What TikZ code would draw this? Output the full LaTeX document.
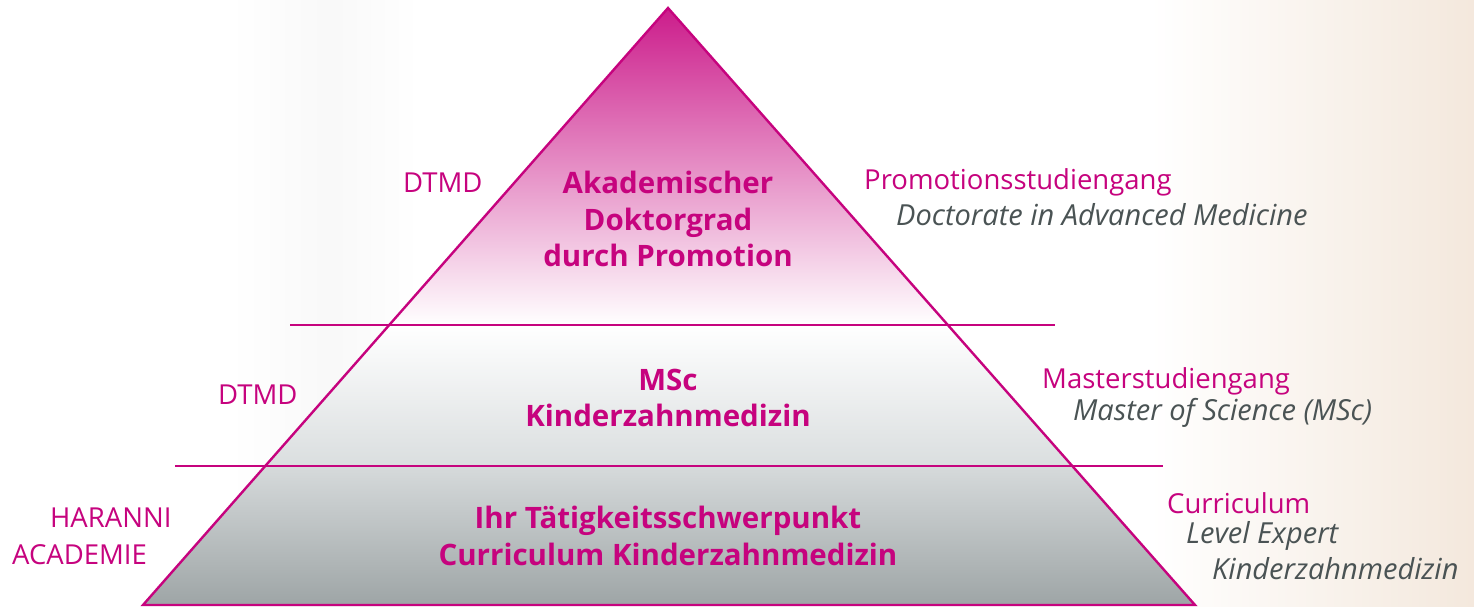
\documentclass[tikz,border=0pt]{standalone}
\usepackage{fontspec}
\setmainfont{Open Sans}
\usepackage{tikz}
\usetikzlibrary{calc}
\definecolor{haramag}{HTML}{C6037E}
\definecolor{haragrey}{HTML}{4A5354}
\tikzset{
  levelline/.style={line width=2.4pt, color=haramag},
  steptext/.style={text=haramag, font=\fontsize{29.5}{36.5}\selectfont\bfseries, align=center},
  sidetext/.style={text=haramag, font=\fontsize{27.5}{30}\selectfont, anchor=west, inner sep=0pt},
  subtext/.style={text=haragrey, font=\fontsize{29}{30}\selectfont\itshape, anchor=west, inner sep=0pt},
}

\begin{document}
\begin{tikzpicture}[x=1pt, y=-1pt]
		%%%%% START %%%%%
		
		% background
		\fill[white] (0, 0) rectangle (1474, 607);
		\shade[left color=white, right color=white!82!brown, shading angle=90] (1150, 0) rectangle (1474, 607);
		\shade[left color=white, right color=gray!5] (230, 0) rectangle (330, 607);
		\shade[left color=gray!5, right color=white] (330, 0) rectangle (420, 607);
		\useasboundingbox (0, 0) rectangle (1474, 607);
		
		\coordinate (apex) at (668, 8);
		\coordinate (bl) at (143, 605);
		\coordinate (br) at (1195, 605);
		\coordinate (ul) at ($(apex)!317/597!(bl)$);
		\coordinate (ur) at ($(apex)!317/597!(br)$);
		\coordinate (ml) at ($(apex)!458/597!(bl)$);
		\coordinate (mr) at ($(apex)!458/597!(br)$);
		
		% the three levels
		\shade[top color=haramag!90!white, bottom color=white] (apex) -- (ul) -- (ur) -- cycle;
		\shade[top color=white, bottom color={rgb,255:red,218;green,222;blue,223}] (ul) -- (ml) -- (mr) -- (ur) -- cycle;
		\shade[top color={rgb,255:red,214;green,218;blue,219}, bottom color={rgb,255:red,158;green,165;blue,166}] (ml) -- (bl) -- (br) -- (mr) -- cycle;
		
		\draw[levelline, line join=miter] (bl) -- (apex) -- (br) -- cycle;
		\draw[levelline] (290, 325) -- (1055, 325);
		\draw[levelline] (175, 466) -- (1163, 466);
		
		% top
		\node[steptext] (promo) at (668, 219) {Akademischer\\Doktorgrad\\durch Promotion};
		\node[sidetext] (dtmdtop) at (403, 183) {DTMD};
		\node[sidetext] (promotitle) at (864, 182) {Promotionsstudiengang};
		\node[subtext] (promosub) at (896, 215) {Doctorate in Advanced Medicine};
		
		% middle
		\node[steptext] (msc) at (668, 398) {MSc\\Kinderzahnmedizin};
		\node[sidetext] (dtmdmid) at (218, 395) {DTMD};
		\node[sidetext] (mastertitle) at (1042, 381) {Masterstudiengang};
		\node[subtext] (mastersub) at (1073, 413) {Master of Science (MSc)};
		
		% bottom
		\node[steptext] (curr) at (668, 536) {Ihr Tätigkeitsschwerpunkt\\Curriculum Kinderzahnmedizin};
		\node[sidetext] (haranni) at (50, 518) {HARANNI};
		\node[sidetext] (academie) at (12, 555) {ACADEMIE};
		\node[sidetext] (currtitle) at (1167, 503) {Curriculum};
		\node[subtext] (level) at (1186, 536) {Level Expert};
		\node[subtext] (kzm) at (1212, 569) {Kinderzahnmedizin};
		
		%%%%% END %%%%%
\end{tikzpicture}
\end{document}
